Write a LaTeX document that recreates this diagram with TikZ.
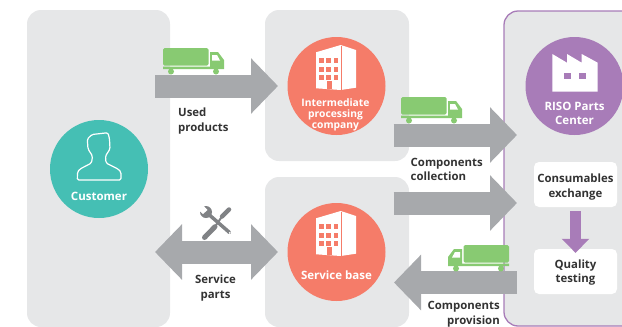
\documentclass[tikz,border=0pt]{standalone}
\usepackage{fontspec}
\setmainfont{Open Sans}
\usetikzlibrary{arrows.meta}

\definecolor{panelgray}{HTML}{E6E7E8}
\definecolor{flowgray}{HTML}{A7A9AC}
\definecolor{toolgray}{HTML}{808285}
\definecolor{labeldark}{HTML}{333333}
\definecolor{custteal}{HTML}{45BFB4}
\definecolor{sitecoral}{HTML}{F57C69}
\definecolor{rigopurple}{HTML}{A87CB8}
\definecolor{truckgreen}{HTML}{88CA72}

\tikzset{
    panel/.style={fill=panelgray, rounded corners=14pt, inner sep=0pt, outer sep=0pt},
    disc/.style={circle, minimum size=98pt, inner sep=0pt, outer sep=0pt},
    disctext/.style={text=white, align=center, font=\fontsize{11.5}{13.5}\selectfont\bfseries},
    steplabel/.style={text=labeldark, align=center, font=\fontsize{11.4}{14.5}\selectfont\bfseries, inner sep=0pt},
    stepbox/.style={fill=white, rounded corners=5pt, minimum width=83pt, minimum height=45pt, inner sep=0pt},
    flow/.style={draw=flowgray, line width=23pt, -{Triangle[width=54pt, length=27pt]}},
    truck/.pic={
        \fill[truckgreen, rounded corners=1.5pt] (0,0) rectangle (45.5,17.7);
        \fill[truckgreen] (47,4) -- (55,4) -- (61,12) -- (61,21) -- (0,21) -- (0,18.7) -- (47,18.7) -- cycle;
        \fill[white] (49,7) -- (54,7) -- (57,12.5) -- (49,12.5) -- cycle;
        \fill[truckgreen] (8,23.5) circle (3);
        \fill[truckgreen] (53,23.5) circle (3);
    },
    building/.pic={
        \fill[white] (0,7.3) -- (24.7,0) -- (40,5) -- (40,42.7) -- (24.7,45) -- (0,43.3) -- cycle;
        \draw[sitecoral, line width=0.3pt] (24.7,0.5) -- (24.7,45);
        \foreach \bx in {3.4,10.2,17.8}
            \foreach \by in {13,21.5,30}
                \fill[sitecoral] (\bx,\by) rectangle ++(4.4,5);
        \fill[sitecoral] (10.5,36) rectangle (15.5,43.6);
    }
}

\begin{document}
\begin{tikzpicture}[x=1pt, y=-1pt]
    \useasboundingbox (0,0) rectangle (622,327);
    \clip (0,0) rectangle (622,327);

    % Panels
    \node[panel, minimum width=143pt, minimum height=317pt] (customerpanel) at (98.5,168.5) {};
    \node[panel, minimum width=144pt, minimum height=151pt] (intermediatepanel) at (337,85.5) {};
    \node[panel, minimum width=144pt, minimum height=150pt] (servicepanel) at (337,252) {};
    \node[panel, draw=rigopurple, line width=1.3pt, minimum width=150pt, minimum height=315pt] (rigopanel) at (579,168.5) {};

    % Ends of the flows
    \coordinate (usedtail) at (155,86);
    \coordinate (usedtip) at (278,86);
    \coordinate (collecttail) at (393.7,135);
    \coordinate (collecttip) at (517,135);
    \coordinate (returntail) at (393.7,203);
    \coordinate (returntip) at (517,203);
    \coordinate (provisiontail) at (517,282.5);
    \coordinate (provisiontip) at (394,282.5);
    \coordinate (partsleft) at (155,252);
    \coordinate (partsright) at (278,252);

    % Flows
    \draw[flow] (usedtail) -- (usedtip);
    \draw[flow] (collecttail) -- (collecttip);
    \draw[flow] (returntail) -- (returntip);
    \draw[flow] (provisiontail) -- (provisiontip);
    \draw[flow, {Triangle[width=54pt, length=27pt]}-{Triangle[width=54pt, length=27pt]}] (partsleft) -- (partsright);

    % Discs
    \node[disc, fill=custteal] (customer) at (99,169) {};
    \node[disc, fill=sitecoral] (intermediate) at (336.5,86) {};
    \node[disc, fill=sitecoral] (servicebase) at (336.5,252) {};
    \node[disc, fill=rigopurple] (rigocenter) at (574.5,86) {};

    % Disc labels
    \node[disctext] (customertext) at (99,196) {Customer};
    \node[disctext, font=\fontsize{10.3}{11}\selectfont\bfseries] (intermediatetext) at (335.5,114.5) {Intermediate\\processing\\company};
    \node[disctext] (servicetext) at (336.5,275) {Service base};
    \node[disctext] (rigotext) at (574.5,113.5) {RISO Parts\\Center};

    % Icons
    \draw[white, line width=1.2pt, rounded corners=1.5pt, line join=round] (77.3,180) -- (77.5,172) -- (80,169) -- (91.5,163) -- (92.5,156) -- (88,149) -- (87.3,139) -- (92,134.5) -- (108,132.7) -- (109.5,139) -- (110,149) -- (105.5,156) -- (106,163) -- (118,169) -- (121,172) -- (121,180) -- cycle;
    \pic at (316,45) {building};
    \pic at (316,211) {building};
    \fill[white] (552.3,54) -- (567,62.7) -- (567,54) -- (581.7,62.7) -- (581.7,54) -- (597.7,62.7) -- (597.7,91.7) -- (552.3,91.7) -- cycle;
    \fill[rigopurple] (564.3,72.7) rectangle (571,79);
    \fill[rigopurple] (579,72.7) rectangle (586,79);

    % Trucks
    \pic at (163,48) {truck};
    \pic at (401,97) {truck};
    \pic[xscale=-1] at (509,245) {truck};

    % Tools
    \draw[toolgray, line width=3.5pt, line cap=round] (206,212) -- (229.5,232.5);
    \fill[toolgray] (206,212) circle (6);
    \fill[white] (201,203) -- (207.5,210) -- (203,214) -- (196,208) -- cycle;
    \fill[white] (229.8,232.8) circle (1);
    \draw[toolgray, line width=5pt, line cap=round] (204.5,237.5) -- (215,226.7);
    \draw[toolgray, line width=2pt] (215,226.7) -- (222,216.5);
    \draw[toolgray, line width=4.5pt, line cap=round] (222,216.5) -- (229,209.5);

    % Boxes
    \node[stepbox] (exchange) at (575.5,184.5) {};
    \node[stepbox] (testing) at (575.5,271.5) {};
    \node[steplabel] (exchangetext) at (575.5,187) {Consumables\\exchange};
    \node[steplabel] (testingtext) at (575.5,272.5) {Quality\\testing};
    \draw[rigopurple, line width=11.5pt, -{Triangle[width=27pt, length=14pt]}] (exchange.south) ++(0,4) -- ([yshift=-4pt]testing.north);

    % Flow labels
    \node[steplabel, align=left, anchor=west] (usedlabel) at (178,121) {Used\\products};
    \node[steplabel, align=left, anchor=west] (collectlabel) at (410.5,169.5) {Components\\collection};
    \node[steplabel] (partslabel) at (215.5,288) {Service\\parts};
    \node[steplabel, align=right, anchor=east] (provisionlabel) at (500,314) {Components\\provision};
\end{tikzpicture}
\end{document}
